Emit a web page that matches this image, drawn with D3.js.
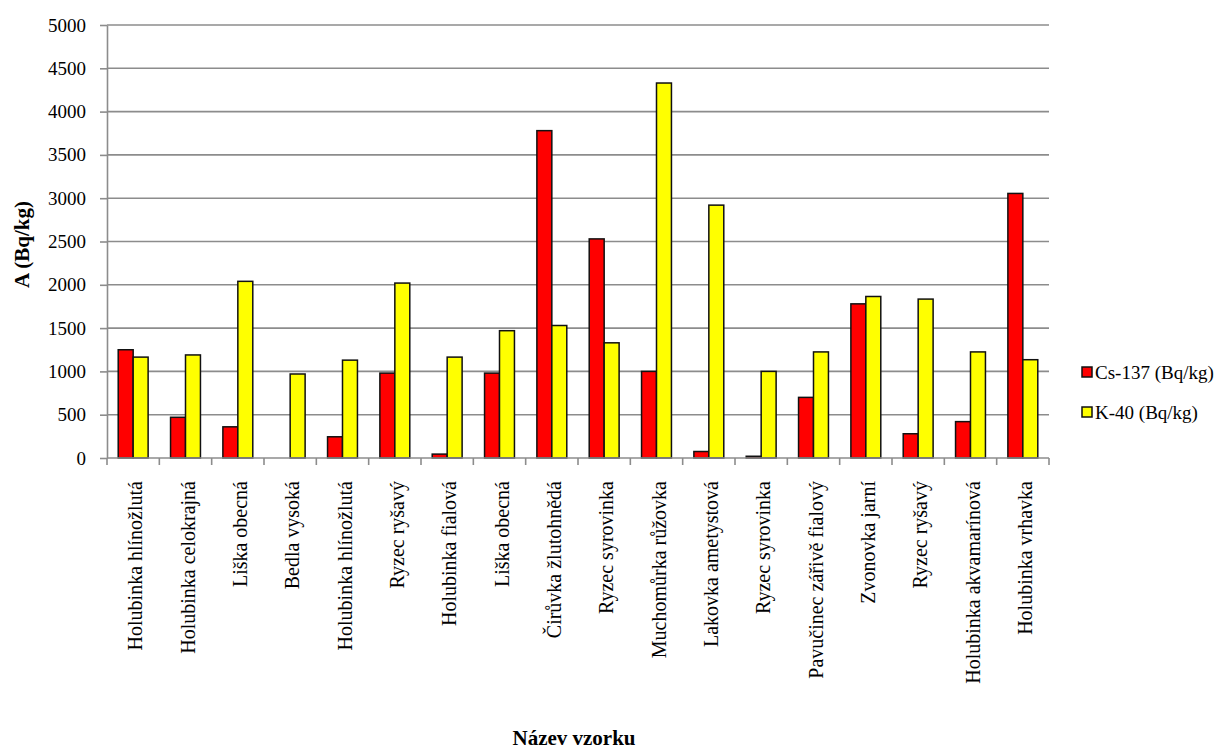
<!DOCTYPE html>
<html>
<head>
<meta charset="utf-8">
<script src="https://cdn.jsdelivr.net/npm/d3@7"></script>
<style>
    body { margin: 0; background: #fff; }
</style>
</head>
<body>
<div id="chart_div"></div>
<script>
// Chart data
const categories = [
    "Holubinka hlínožlutá", "Holubinka celokrajná", "Liška obecná", "Bedla vysoká",
    "Holubinka hlínožlutá", "Ryzec ryšavý", "Holubinka fialová", "Liška obecná",
    "Čirůvka žlutohnědá", "Ryzec syrovinka", "Muchomůrka růžovka", "Lakovka ametystová",
    "Ryzec syrovinka", "Pavučinec zářivě fialový", "Zvonovka jarní", "Ryzec ryšavý",
    "Holubinka akvamarínová", "Holubinka vrhavka"
];
const cs137 = [1250, 470, 360, 0, 245, 980, 45, 980, 3780, 2530, 1000, 75, 20, 700, 1780, 280, 420, 3055];
const k40 = [1165, 1190, 2040, 970, 1130, 2020, 1165, 1470, 1530, 1330, 4330, 2920, 1000, 1225, 1865, 1835, 1225, 1135];
const seriesNames = ["Cs-137 (Bq/kg)", "K-40 (Bq/kg)"];
const seriesColors = ["#ff0000", "#ffff00"];
const yTicks = [0, 500, 1000, 1500, 2000, 2500, 3000, 3500, 4000, 4500, 5000];

const width = 1230;
const height = 752;
const plot = { left: 107, right: 1049, top: 25, bottom: 458 };
const serif = "'Liberation Serif', 'Times New Roman', serif";

/*----------------------
SVG + SCALES
----------------------*/
const svg = d3.select("#chart_div").append("svg")
    .attr("width", width)
    .attr("height", height)
    .attr("font-family", serif);

const x = d3.scaleBand()
    .domain(d3.range(categories.length))
    .range([plot.left, plot.right])
    .paddingInner(0)
    .paddingOuter(0);

// two bars per group, gap width 150% like the original
const x1 = d3.scaleBand()
    .domain([0, 1])
    .range([0, x.bandwidth()])
    .paddingInner(0)
    .paddingOuter(0.75);

const y = d3.scaleLinear()
    .domain([0, 5000])
    .range([plot.bottom, plot.top]);

/*----------------------
GRIDLINES
----------------------*/
svg.append("g")
    .selectAll("line")
    .data(yTicks.filter(d => d > 0))
    .enter()
    .append("line")
    .attr("x1", plot.left)
    .attr("x2", plot.right)
    .attr("y1", d => y(d))
    .attr("y2", d => y(d))
    .attr("stroke", "#8c8c8c")
    .attr("stroke-width", 1.6);

/*----------------------
BARS
----------------------*/
const rows = categories.map((c, i) => [cs137[i], k40[i]]);

const groups = svg.append("g")
    .selectAll("g")
    .data(rows)
    .enter()
    .append("g")
    .attr("transform", (d, i) => `translate(${x(i)},0)`);

groups.selectAll("rect")
    .data(d => d.map((v, s) => ({ v, s })))
    .enter()
    .filter(d => d.v > 0)
    .append("rect")
    .attr("x", d => x1(d.s))
    .attr("width", x1.bandwidth())
    .attr("y", d => y(d.v))
    .attr("height", d => y(0) - y(d.v))
    .attr("fill", d => seriesColors[d.s])
    .attr("stroke", "#111")
    .attr("stroke-width", 1.5);

/*----------------------
AXES
----------------------*/
const yAxis = svg.append("g")
    .attr("transform", `translate(${plot.left},0)`)
    .call(d3.axisLeft(y).tickValues(yTicks).tickFormat(d3.format("d"))
        .tickSize(7).tickPadding(14).tickSizeOuter(0));

yAxis.attr("font-family", serif).attr("font-size", 19);
yAxis.select(".domain").attr("stroke", "#8c8c8c").attr("stroke-width", 1.6);
yAxis.selectAll(".tick line").attr("stroke", "#8c8c8c").attr("stroke-width", 1.6);
yAxis.selectAll(".tick text").attr("fill", "#000");

// x axis line with ticks at category boundaries
const xAxis = svg.append("g");
xAxis.append("line")
    .attr("x1", plot.left)
    .attr("x2", plot.right)
    .attr("y1", y(0))
    .attr("y2", y(0))
    .attr("stroke", "#8c8c8c")
    .attr("stroke-width", 1.6);

xAxis.selectAll(".xtick")
    .data(d3.range(categories.length + 1))
    .enter()
    .append("line")
    .attr("class", "xtick")
    .attr("x1", i => plot.left + i * x.step())
    .attr("x2", i => plot.left + i * x.step())
    .attr("y1", y(0))
    .attr("y2", y(0) + 7)
    .attr("stroke", "#8c8c8c")
    .attr("stroke-width", 1.6);

// rotated category labels
xAxis.selectAll(".xlabel")
    .data(categories)
    .enter()
    .append("text")
    .attr("class", "xlabel")
    .attr("transform", (d, i) => `translate(${x(i) + x.bandwidth() / 2 + 2},481) rotate(-90)`)
    .attr("text-anchor", "end")
    .attr("dominant-baseline", "central")
    .attr("font-size", 20)
    .text(d => d);

/*----------------------
AXIS TITLES
----------------------*/
svg.append("text")
    .attr("transform", `translate(22,${(plot.top + plot.bottom) / 2 + 3}) rotate(-90)`)
    .attr("text-anchor", "middle")
    .attr("dominant-baseline", "central")
    .attr("font-size", 21)
    .attr("font-weight", "bold")
    .text("A (Bq/kg)");

svg.append("text")
    .attr("x", 574)
    .attr("y", 745)
    .attr("text-anchor", "middle")
    .attr("font-size", 21)
    .attr("font-weight", "bold")
    .text("Název vzorku");

/*----------------------
LEGEND
----------------------*/
const legend = svg.append("g")
    .attr("transform", "translate(1082,367)");

const items = legend.selectAll("g")
    .data(seriesNames)
    .enter()
    .append("g")
    .attr("transform", (d, i) => `translate(0,${i * 40})`);

items.append("rect")
    .attr("width", 10)
    .attr("height", 10)
    .attr("fill", (d, i) => seriesColors[i])
    .attr("stroke", "#111")
    .attr("stroke-width", 1.5);

items.append("text")
    .attr("x", 13)
    .attr("y", 12)
    .attr("font-size", 19)
    .text(d => d);
</script>
</body>
</html>
